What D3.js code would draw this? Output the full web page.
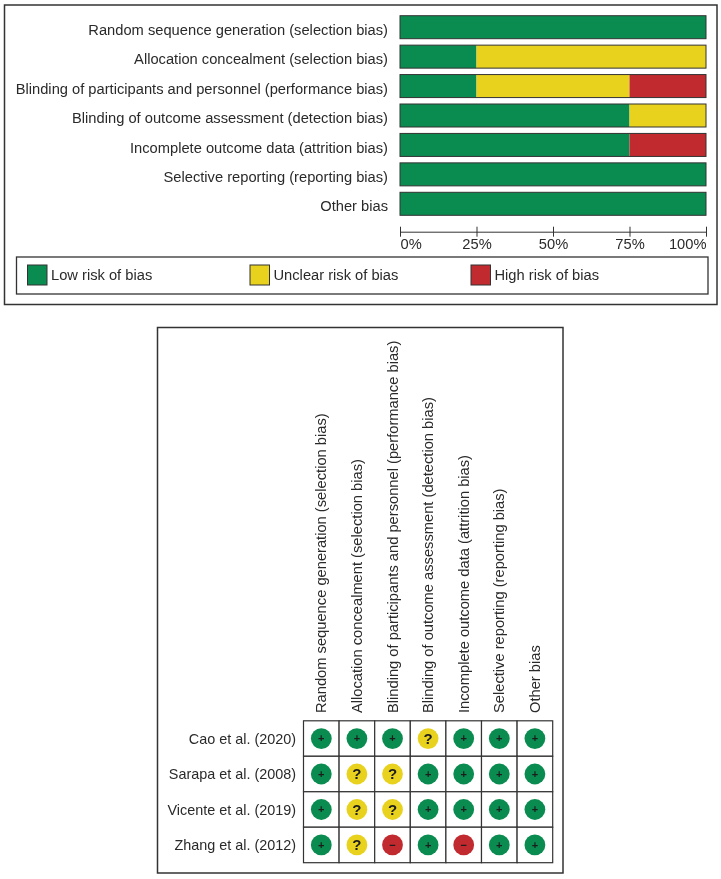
<!DOCTYPE html>
<html><head><meta charset="utf-8">
<script src="https://cdn.jsdelivr.net/npm/d3@7/dist/d3.min.js"></script>
<style>html,body{margin:0;padding:0;background:#fff}svg{display:block;filter:blur(0.4px)}text{font-family:"Liberation Sans",Arial,sans-serif;fill:#2a2a2a}</style>
</head><body><svg id="c" width="721" height="879"></svg>
<script>
const domains=["Random sequence generation (selection bias)","Allocation concealment (selection bias)","Blinding of participants and personnel (performance bias)","Blinding of outcome assessment (detection bias)","Incomplete outcome data (attrition bias)","Selective reporting (reporting bias)","Other bias"];
const lowRisk=[100,25,25,75,75,100,100];
const unclearRisk=[0,75,50,25,0,0,0];
const highRisk=[0,0,25,0,25,0,0];
const riskKeys=["low","unclear","high"];
const riskLabels=["Low risk of bias","Unclear risk of bias","High risk of bias"];
const riskColors=["#0a8c50","#e8d21d","#c12a2e"];
const tickValues=[0,25,50,75,100];
const studies=["Cao et al. (2020)","Sarapa et al. (2008)","Vicente et al. (2019)","Zhang et al. (2012)"];
const judgementsCao=["+","+","+","?","+","+","+"];
const judgementsSarapa=["+","?","?","+","+","+","+"];
const judgementsVicente=["+","?","?","+","+","+","+"];
const judgementsZhang=["+","?","-","+","-","+","+"];
const judgements=[judgementsCao,judgementsSarapa,judgementsVicente,judgementsZhang];

const svg=d3.select("#c");
const FS=14.7, INK="#333";
const frame=(x,y,w,h,sw)=>svg.append("rect").attr("x",x).attr("y",y).attr("width",w).attr("height",h).attr("fill","#fff").attr("stroke",INK).attr("stroke-width",sw);

// --- Summary bars
frame(4.5,5,712.5,299.5,1.5);
const x=d3.scaleLinear().domain([0,100]).range([400,706]);
const y=d3.scaleBand().domain(domains).range([15.7,215.3]).paddingInner(0.2185).paddingOuter(0);
const table=domains.map((d,i)=>({d,low:lowRisk[i],unclear:unclearRisk[i],high:highRisk[i]}));
const stacked=d3.stack().keys(riskKeys)(table);
const colour=d3.scaleOrdinal().domain(riskKeys).range(riskColors);
const bh=y.bandwidth();
svg.append("g").selectAll("g").data(stacked).join("g").attr("fill",s=>colour(s.key))
 .selectAll("rect").data(s=>s.filter(p=>p[1]>p[0])).join("rect")
 .attr("x",p=>x(p[0])).attr("width",p=>x(p[1])-x(p[0]))
 .attr("y",p=>y(p.data.d)).attr("height",bh);
svg.append("g").selectAll("rect").data(domains).join("rect")
 .attr("x",x(0)).attr("width",x(100)-x(0)).attr("y",d=>y(d)).attr("height",bh)
 .attr("fill","none").attr("stroke","#333").attr("stroke-width",1);
svg.append("g").selectAll("text").data(domains).join("text")
 .attr("x",388).attr("y",d=>y(d)+bh/2+2.5).attr("dy","0.35em").attr("text-anchor","end")
 .attr("font-size",FS).text(d=>d);
const axis=svg.append("g").attr("transform","translate(0,231.7)")
 .call(d3.axisBottom(x).tickValues(tickValues).tickFormat(d=>d+"%").tickSize(5).tickSizeOuter(0));
axis.select(".domain").attr("stroke",INK).attr("stroke-width",1);
axis.selectAll(".tick line").attr("y1",-5).attr("y2",5).attr("stroke",INK);
axis.selectAll(".tick text").attr("y",7).attr("font-size",FS)
 .attr("font-family","Liberation Sans").attr("fill","#2a2a2a")
 .attr("text-anchor",d=>d===0?"start":d===100?"end":"middle");

// --- Legend
frame(16.5,257,691.5,37,1.3);
const lx=d3.scaleOrdinal().domain(riskLabels).range([27.5,250,471]);
const lg=svg.append("g").selectAll("g").data(riskLabels).join("g").attr("transform",d=>`translate(${lx(d)},265)`);
lg.append("rect").attr("width",19.5).attr("height",20).attr("fill",(d,i)=>riskColors[i]).attr("stroke","#333").attr("stroke-width",1);
lg.append("text").attr("x",23.5).attr("y",10).attr("dy","0.35em").attr("font-size",FS).text(d=>d);

// --- Summary grid
frame(157.5,327.5,405.5,545.5,1.5);
const gx=d3.scaleBand().domain(d3.range(domains.length)).range([303.5,552.7]);
const gy=d3.scaleBand().domain(studies).range([720.8,862.7]);
svg.append("g").selectAll("text").data(domains).join("text")
 .attr("transform",(d,i)=>`translate(${gx(i)+gx.bandwidth()/2+5},713) rotate(-90)`)
 .attr("font-size",FS).text(d=>d);
svg.append("g").selectAll("text").data(studies).join("text")
 .attr("x",296).attr("y",d=>gy(d)+gy.bandwidth()/2).attr("dy","0.35em").attr("text-anchor","end")
 .attr("font-size",14.4).text(d=>d);
const cells=judgements.flatMap((r,i)=>r.map((v,j)=>({study:studies[i],j,v})));
const cellColour=d3.scaleOrdinal().domain(["+","?","-"]).range(riskColors);
const grid=svg.append("g");
grid.selectAll("rect").data(cells).join("rect")
 .attr("x",d=>gx(d.j)).attr("y",d=>gy(d.study)).attr("width",gx.bandwidth()).attr("height",gy.bandwidth())
 .attr("fill","#fff").attr("stroke",INK).attr("stroke-width",1.2);
grid.selectAll("circle").data(cells).join("circle")
 .attr("cx",d=>gx(d.j)+gx.bandwidth()/2).attr("cy",d=>gy(d.study)+gy.bandwidth()/2).attr("r",10.4)
 .attr("fill",d=>cellColour(d.v));
grid.selectAll("text").data(cells).join("text")
 .attr("x",d=>gx(d.j)+gx.bandwidth()/2).attr("y",d=>gy(d.study)+gy.bandwidth()/2).attr("dy","0.35em")
 .attr("text-anchor","middle").attr("font-weight","bold")
 .attr("font-size",d=>d.v==="?"?15:11).style("fill","#1c1c1c")
 .text(d=>d.v==="-"?"\u2212":d.v);
</script></body></html>
